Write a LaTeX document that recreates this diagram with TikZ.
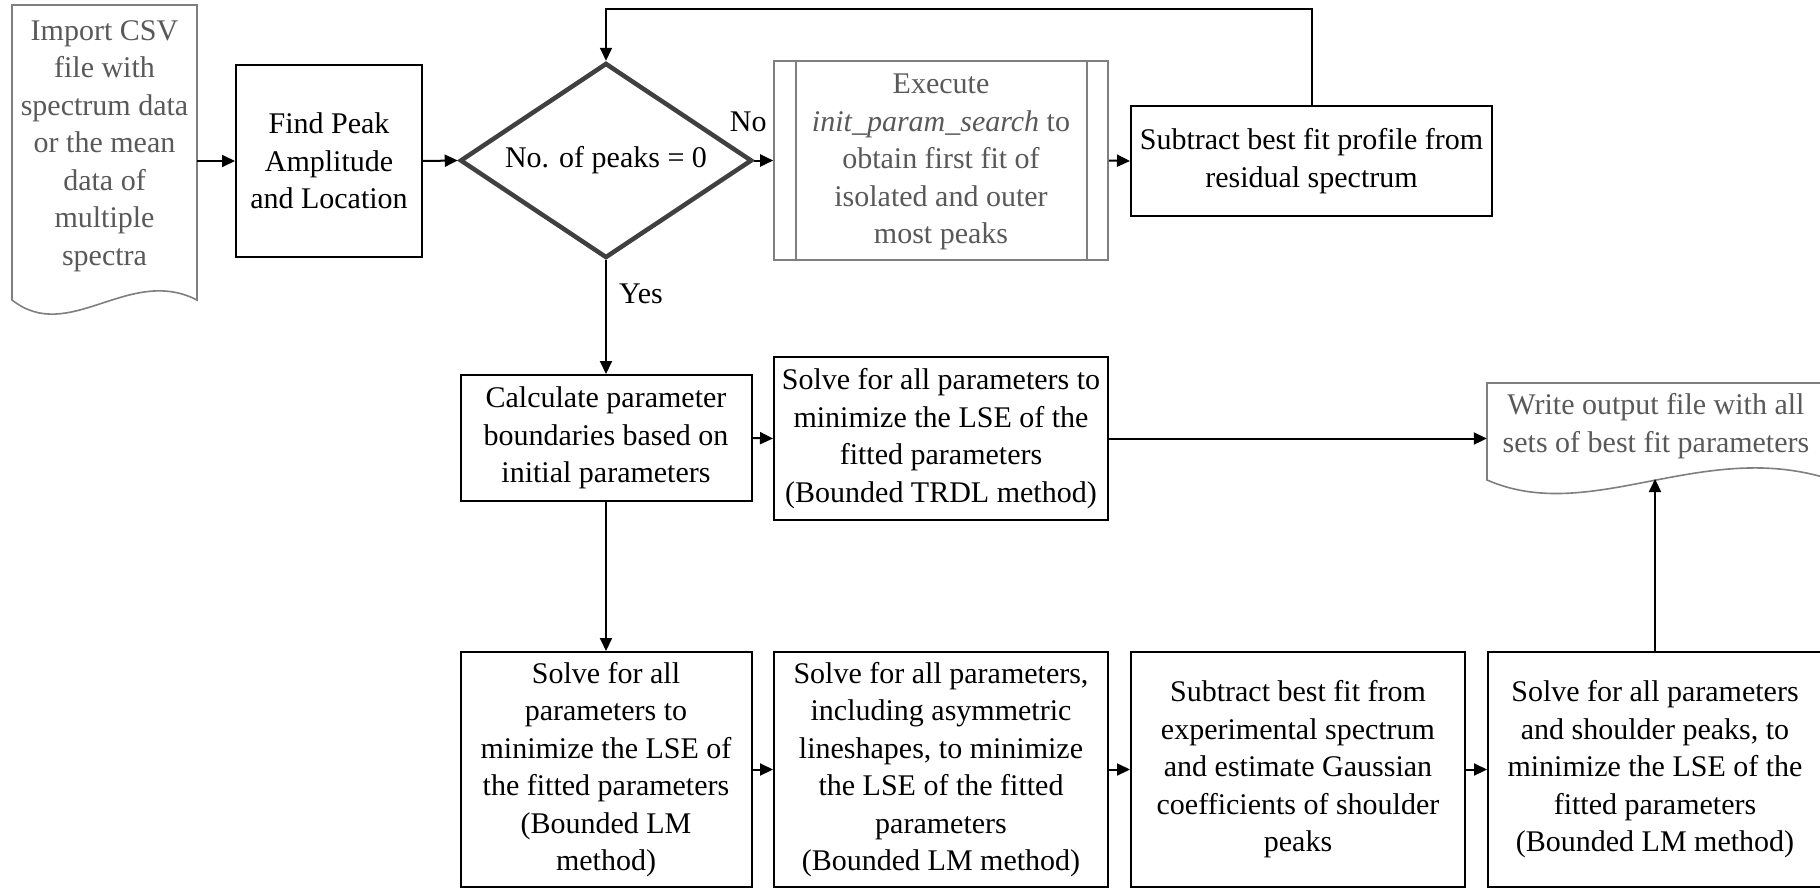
\documentclass[tikz,border=0pt]{standalone}
\usepackage{fontspec}
\setmainfont{Liberation Serif}
\usetikzlibrary{arrows.meta,shapes.geometric}
\definecolor{docgray}{HTML}{7F7F7F}
\definecolor{doctext}{HTML}{595959}
\definecolor{diagray}{HTML}{404040}
\begin{document}
\begin{tikzpicture}[x=1pt,y=-1pt,
  txt/.style={font=\fontsize{30}{37.5}\selectfont, align=center, inner sep=0pt},
  box/.style={txt, draw=black, line width=2pt},
  gbox/.style={txt, draw=docgray, text=doctext, line width=1.6pt},
  gtxt/.style={txt, text=doctext},
  docline/.style={draw=docgray, line width=1.6pt, line join=miter},
  dia/.style={txt, shape=diamond, draw=diagray, line width=4.5pt, aspect=1.5},
  lab/.style={font=\fontsize{30}{37.5}\selectfont, inner sep=0pt, text=black},
  arr/.style={line width=2pt, -{Triangle[length=13pt,width=12pt]}}]
\useasboundingbox (0,0) rectangle (1820,889);
\fill[white] (0,0) rectangle (1820,889);

% input document
\draw[docline] (12,5) -- (197,5) -- (197,300) .. controls (129,265) and (69,345) .. (12,300) -- cycle;
\node[gtxt, minimum width=185pt] (in) at (104.5,146)
  {Import CSV\\file with\\spectrum data\\or the mean\\data of\\multiple\\spectra};

\node[box, minimum width=186pt, minimum height=192pt] (fp) at (329,161)
  {Find Peak\\Amplitude\\and Location};

\node[dia, minimum width=292pt, minimum height=195pt] (dec) at (606,160.5)
  {\raisebox{-4pt}{No. of peaks = 0}};

\node[gbox, minimum width=334pt, minimum height=199pt] (sub) at (941,160.5)
  {\vphantom{X}\\[-34pt]Execute\\\textit{init\_param\_search} to\\obtain first fit of\\isolated and outer\\most peaks};
\draw[docgray, line width=1.6pt] ([xshift=23pt]sub.north west) -- ([xshift=23pt]sub.south west);
\draw[docgray, line width=1.6pt] ([xshift=-22pt]sub.north east) -- ([xshift=-22pt]sub.south east);

\node[box, minimum width=361pt, minimum height=110pt] (res) at (1311.5,161)
  {Subtract best fit profile from\\residual spectrum};

\node[box, minimum width=291pt, minimum height=126pt] (calc) at (606,438)
  {Calculate parameter\\boundaries based on\\initial parameters};

\node[box, minimum width=334pt, minimum height=163pt] (trdl) at (941,438.5)
  {Solve for all parameters to\\minimize the LSE of the\\fitted parameters\\(Bounded TRDL method)};

% output document
\draw[docline] (1487,383) -- (1826,383) -- (1826,478) .. controls (1700,440) and (1590,525) .. (1487,480) -- cycle;
\node[gtxt, minimum width=338pt] (out) at (1656,426)
  {Write output file with all\\sets of best fit parameters};
\coordinate (outb) at (1655,479);

\node[box, minimum width=291pt, minimum height=235pt] (b1) at (606,769.5)
  {Solve for all\\parameters to\\minimize the LSE of\\the fitted parameters\\(Bounded LM\\method)};
\node[box, minimum width=334pt, minimum height=235pt] (b2) at (941,769.5)
  {Solve for all parameters,\\including asymmetric\\lineshapes, to minimize\\the LSE of the fitted\\parameters\\(Bounded LM method)};
\node[box, minimum width=334pt, minimum height=235pt] (b3) at (1298,769.5)
  {Subtract best fit from\\experimental spectrum\\and estimate Gaussian\\coefficients of shoulder\\peaks};
\node[box, minimum width=334pt, minimum height=235pt] (b4) at (1655,769.5)
  {Solve for all parameters\\and shoulder peaks, to\\minimize the LSE of the\\fitted parameters\\(Bounded LM method)};

\coordinate (top) at (606,9);

% connectors
\draw[arr] (in.east |- fp.west) -- (fp.west);
\draw[arr] (fp.east) -- (dec.west);
\draw[arr] (dec.east) -- node[lab, pos=0, xshift=-6pt, yshift=39pt] {No} (sub.west);
\draw[arr] (sub.east) -- (res.west);
\draw[arr] (res.north) |- (top) -- (dec.north);
\draw[arr] (dec.south) -- node[lab, pos=0, xshift=35pt, yshift=-34pt] {Yes} (calc.north);
\draw[arr] (calc.east) -- (trdl.west);
\draw[arr] (trdl.east) -- (trdl.east -| out.west);
\draw[arr] (calc.south) -- (b1.north);
\draw[arr] (b1.east) -- (b2.west);
\draw[arr] (b2.east) -- (b3.west);
\draw[arr] (b3.east) -- (b4.west);
\draw[arr] (b4.north) -- (outb);
\end{tikzpicture}
\end{document}
